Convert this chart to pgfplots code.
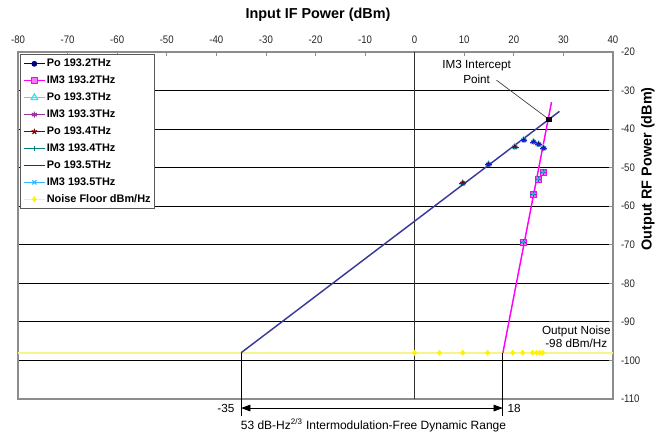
\documentclass[border=0pt]{standalone}
\usepackage{fontspec}
\setmainfont{Liberation Sans}
\newfontfamily\narrow[FakeStretch=0.88]{Liberation Sans}
\usepackage{pgfplots}
\pgfplotsset{compat=1.18}
\usetikzlibrary{arrows.meta}
\definecolor{navyS}{HTML}{000080}
\definecolor{magS}{HTML}{FF00FF}
\definecolor{cyanS}{HTML}{33E6F0}
\definecolor{purpS}{HTML}{993399}
\definecolor{maroonS}{HTML}{800000}
\definecolor{tealS}{HTML}{008080}
\definecolor{blueS}{HTML}{2020D0}
\definecolor{lblueS}{HTML}{33BBFF}
\definecolor{poline}{HTML}{3A3A9A}
\definecolor{noiseline}{HTML}{F5F58A}
\begin{document}
\begin{tikzpicture}
\path[use as bounding box] (-13.5pt,-26.25pt) rectangle (480pt,299.25pt);
\begin{axis}[
 at={(0,0)}, anchor=south west,
 scale only axis, width=446.25pt, height=260.25pt,
 xmin=-80,xmax=40,ymin=-110,ymax=-20,
 xtick={-80,-70,...,40}, ytick={-110,-100,...,-20},
 xticklabels={-80,-70,-60,-50,-40,-30,-20,-10,0,10,20,30,40},
 yticklabels={-110,-100,-90,-80,-70,-60,-50,-40,-30,-20},
 xtick pos=right, ytick pos=right, xticklabel pos=right, yticklabel pos=right,
 tick align=inside, major tick length=3pt,
 axis line style={draw=black!45, line width=0.8pt},
 tick style={black!45, line width=0.6pt},
 ymajorgrids, grid style={black, line width=0.6pt},
 ticklabel style={font=\narrow\fontsize{8.2}{9}\selectfont, text=black!85},
 xticklabel style={yshift=3pt}, yticklabel style={xshift=2.5pt},
 clip=false,
 legend style={at={(0.0034,0.994)}, anchor=north west, draw=black!65, line width=0.9pt,
   font=\bfseries\fontsize{8.2}{9.5}\selectfont, row sep=3pt, inner sep=2pt,
   nodes={inner sep=1pt, text height=6pt, text depth=1.7pt}},
 legend cell align=left,
 legend image code/.code={\draw[mark=none, line width=0.6pt] (3pt,0pt)--(19pt,0pt); \draw[only marks] plot coordinates {(11pt,0pt)};},
]
% noise floor reference line
\addplot[forget plot, color=noiseline, line width=1.5pt] coordinates {(-80,-98) (40,-98)};
% vertical line at 0
\draw[black!80, line width=0.6pt] (axis cs:0,-110) -- (axis cs:0,-20);
% trend lines
\addplot[forget plot, color=poline, line width=1.1pt] coordinates {(-35,-98) (29.2,-35.4)};
\addplot[forget plot, color=magS, line width=1.1pt] coordinates {(17.8,-98) (27.6,-33.0)};

\addplot[only marks, color=navyS, mark=*, mark size=1.7pt] coordinates {(9.7,-54.0) (14.9,-49.1) (20.2,-44.6) (22.0,-42.8) (24.0,-43.3) (25.0,-43.9) (26.0,-44.9)};
\addlegendentry{Po 193.2THz}
\addplot[only marks, color=magS, mark=square*, mark size=2.2pt, mark options={fill=magS!55}] coordinates {(21.9,-69.3) (23.9,-56.8) (24.9,-52.9) (25.9,-51.1)};
\addlegendentry{IM3 193.2THz}
\addplot[only marks, color=cyanS, mark=triangle, mark size=2.8pt] coordinates {(9.7,-54.0) (14.9,-49.1) (20.2,-44.6) (22.0,-42.8) (24.0,-43.3) (25.0,-43.9) (26.0,-44.9)};
\addlegendentry{Po 193.3THz}
\addplot[only marks, color=purpS, mark=asterisk, mark size=2.2pt] coordinates {(21.9,-69.3) (23.9,-56.8) (24.9,-52.9) (25.9,-51.1)};
\addlegendentry{IM3 193.3THz}
\addplot[only marks, color=maroonS, mark=star, mark size=2.2pt] coordinates {(9.7,-54.0) (14.9,-49.1) (20.2,-44.6) (22.0,-42.8) (24.0,-43.3) (25.0,-43.9) (26.0,-44.9)};
\addlegendentry{Po 193.4THz}
\addplot[only marks, color=tealS, mark=+, mark size=2.2pt] coordinates {(21.9,-69.3) (23.9,-56.8) (24.9,-52.9) (25.9,-51.1)};
\addlegendentry{IM3 193.4THz}
\addplot[only marks, color=blueS, mark=-, mark size=2.8pt] coordinates {(9.7,-54.0) (14.9,-49.1) (20.2,-44.6) (22.0,-42.8) (24.0,-43.3) (25.0,-43.9) (26.0,-44.9)};
\addlegendentry{Po 193.5THz}
\addplot[only marks, color=lblueS, mark=x, mark size=2.2pt] coordinates {(21.9,-69.3) (23.9,-56.8) (24.9,-52.9) (25.9,-51.1)};
\addlegendentry{IM3 193.5THz}
\addplot[only marks, color=noiseline, line width=1.5pt, mark=diamond*, mark size=2pt, mark options={draw=yellow, fill=yellow, line width=0.4pt}] coordinates {(0,-98) (5,-98) (9.7,-98) (14.7,-98) (19.8,-98) (21.8,-98) (23.8,-98) (24.6,-98) (25.2,-98) (25.8,-98)};
\addlegendentry{Noise Floor dBm/Hz}
% intercept point
\addplot[forget plot, only marks, mark=square*, mark size=1.7pt, black] coordinates {(27,-37.4)};

% dimension lines
\draw[black, line width=0.8pt] (axis cs:-35,-98) -- (axis cs:-35,-114.4);
\draw[black, line width=0.8pt] (axis cs:17.8,-98) -- (axis cs:17.8,-114.4);
\draw[black, line width=0.6pt, {Triangle[length=7pt,width=5pt]}-{Triangle[length=7pt,width=5pt]}] (axis cs:-35,-112.35) -- (axis cs:17.8,-112.35);
\node[anchor=east, font=\fontsize{8.8}{10}\selectfont, xshift=-1.5pt] at (axis cs:-35,-112.35) {-35};
\node[anchor=west, font=\fontsize{8.8}{10}\selectfont] at (axis cs:17.8,-112.35) {18};
\node[font=\fontsize{9}{11}\selectfont] at (axis cs:-8.3,-116.8) {53 dB-Hz\textsuperscript{2/3} Intermodulation-Free Dynamic Range};
% annotations
\draw[black!75, line width=0.5pt] (axis cs:16.5,-27.3) -- (axis cs:27,-37.4);
\node[align=center, font=\fontsize{8.8}{11.25}\selectfont] at (axis cs:12.5,-25.05) {IM3 Intercept\\Point};
\node[align=center, font=\fontsize{8.8}{9.4}\selectfont] at (axis cs:32.6,-93.9) {Output Noise\\-98 dBm/Hz};
\end{axis}
\begin{scope}[x=0.75pt,y=-0.75pt,shift={(-13.5pt,299.25pt)}]
\node[font=\bfseries\fontsize{10.8}{13}\selectfont] at (318,15) {Input IF Power (dBm)};
\node[font=\bfseries\fontsize{10.8}{13}\selectfont, rotate=90] at (648,169) {Output RF Power (dBm)};
\end{scope}
\end{tikzpicture}
\end{document}
